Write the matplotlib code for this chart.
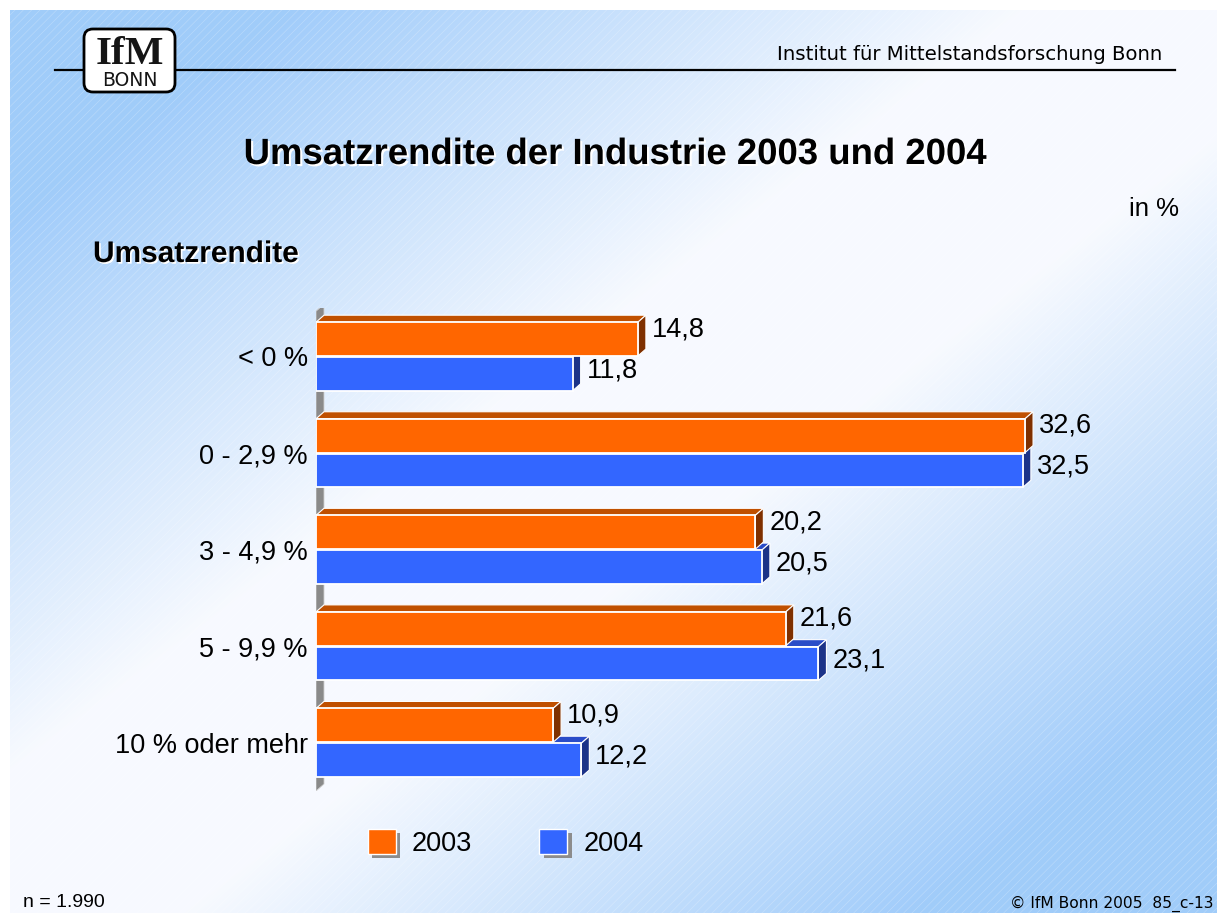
import numpy as np
import matplotlib
matplotlib.use('Agg')
import matplotlib.pyplot as plt
from matplotlib.patches import Polygon, Rectangle, FancyBboxPatch, Patch
import matplotlib.patheffects as pe

# ---------------- data ----------------
categories = ['< 0 %', '0 - 2,9 %', '3 - 4,9 %', '5 - 9,9 %', '10 % oder mehr']
values_2003 = [14.8, 32.6, 20.2, 21.6, 10.9]
values_2004 = [11.8, 32.5, 20.5, 23.1, 12.2]
series_labels = ['2003', '2004']

title = 'Umsatzrendite der Industrie 2003 und 2004'
axis_title = 'Umsatzrendite'
unit_label = 'in %'
header = 'Institut für Mittelstandsforschung Bonn'
footer_left = 'n = 1.990'
footer_right = '© IfM Bonn 2005  85_c-13'

# ---------------- styles ----------------
W, H, DPI = 1217, 913, 100
ORANGE, ORANGE_TOP, ORANGE_SIDE = '#ff6600', '#c05000', '#7f3000'
BLUE, BLUE_TOP, BLUE_SIDE = '#3366ff', '#2a4cc8', '#1c3388'
WALL = '#8a8a8a'
SANS = ['Liberation Sans', 'DejaVu Sans']
plt.rcParams['font.family'] = SANS
plt.rcParams['hatch.linewidth'] = 0.5

fig = plt.figure(figsize=(W / DPI, H / DPI), dpi=DPI)

# ---------------- background ----------------
bg = fig.add_axes([0, 0, 1, 1])
bg.set_xlim(0, W)
bg.set_ylim(H, 0)
bg.axis('off')
yy, xx = np.mgrid[0:H, 0:W]
s = xx / W + yy / H
d = np.abs(s - 1.0)
g = np.clip((d - 0.15) / 0.6, 0, 1)
white = np.array([0.97, 0.98, 1.0])
blue = np.array([0.63, 0.80, 0.98])
img = white[None, None, :] * (1 - g[..., None]) + blue[None, None, :] * g[..., None]
img[:10, :, :] = 1.0
img[:, :10, :] = 1.0
bg.imshow(img, extent=(0, W, H, 0), aspect='auto', zorder=0, interpolation='bilinear')
bg.add_patch(Rectangle((10, 10), W - 10, H - 10, facecolor='none', edgecolor='white',
                       hatch='////', lw=0, alpha=0.25, zorder=1))

# header line + logo
bg.plot([55, 1175], [70, 70], color='black', lw=1.6, zorder=2)
bg.add_patch(FancyBboxPatch((84, 29), 91, 63, boxstyle='round,pad=0,rounding_size=9',
                            fc='white', ec='black', lw=2, zorder=3))
bg.text(130, 64, 'IfM', family='Liberation Serif', weight='bold', fontsize=29.5,
        ha='center', va='baseline', color='#151515', zorder=4)
bg.text(130, 86, 'BONN', family='DejaVu Sans', fontsize=13.5, ha='center', va='baseline',
        color='#151515', zorder=4)
bg.text(1162, 60, header, family='DejaVu Sans', fontsize=14.2, ha='right', va='baseline',
        color='black', zorder=4)

# titles
bg.text(615, 164, title, fontsize=26.3, weight='bold', ha='center', va='baseline', color='black',
        zorder=4, path_effects=[pe.withSimplePatchShadow(offset=(1.5, -1.5), shadow_rgbFace='white', alpha=1.0)])
bg.text(93, 262, axis_title, fontsize=21.5, weight='bold', ha='left', va='baseline', color='black',
        zorder=4, path_effects=[pe.withSimplePatchShadow(offset=(1.2, -1.2), shadow_rgbFace='white', alpha=1.0)])
bg.text(1179, 216, unit_label, fontsize=18.5, ha='right', va='baseline', color='black', zorder=4)

# footers
bg.text(23, 907, footer_left, fontsize=14, ha='left', va='baseline', color='black', zorder=4)
bg.text(1213, 908, footer_right, family='DejaVu Sans', fontsize=11.2, ha='right', va='baseline',
        color='black', zorder=4)

# ---------------- main chart ----------------
ax_l, ax_r, ax_t, ax_b = 316, 1100, 308.2, 791.0
ax = fig.add_axes([ax_l / W, 1 - ax_b / H, (ax_r - ax_l) / W, (ax_b - ax_t) / H])
ax.patch.set_alpha(0)
px_per_unit = 21.75
xmax = (ax_r - ax_l) / px_per_unit
ax.set_xlim(0, xmax)
ax.set_ylim(len(categories) - 0.5, -0.5)
sx = xmax / (ax_r - ax_l)
sy = len(categories) / (ax_b - ax_t)
ddx, ddy = 8 * sx, 7 * sy

for sp in ax.spines.values():
    sp.set_visible(False)
ax.set_xticks([])
ypos = np.arange(len(categories))
ax.set_yticks(ypos)
ax.set_yticklabels(categories, fontsize=19.5)
ax.tick_params(axis='y', length=0, pad=6)

# wall
wall_top = -0.5 + 3 * sy
wall_bot = len(categories) - 0.5
ax.add_patch(Polygon([(0, wall_top), (ddx, wall_top - ddy), (ddx, wall_bot - ddy), (0, wall_bot)],
                     closed=True, fc=WALL, ec='#d0d0d0', lw=0.6, zorder=1))

bh = 0.35
off = 0.18


def draw_series(vals, centers, front, top, side, z):
    bars = ax.barh(centers, vals, height=bh, color=front, edgecolor='white', lw=1.3, zorder=z + 1)
    for rect in bars:
        v = rect.get_width()
        y0 = rect.get_y()
        y1 = y0 + rect.get_height()
        ax.add_patch(Polygon([(0, y0), (v, y0), (v + ddx, y0 - ddy), (ddx, y0 - ddy)],
                             closed=True, fc=top, ec='white', lw=0.8, zorder=z))
        ax.add_patch(Polygon([(v, y0), (v + ddx, y0 - ddy), (v + ddx, y1 - ddy), (v, y1)],
                             closed=True, fc=side, ec='white', lw=0.8, zorder=z))
    return bars


draw_series(values_2004, ypos + off, BLUE, BLUE_TOP, BLUE_SIDE, 2)
draw_series(values_2003, ypos - off, ORANGE, ORANGE_TOP, ORANGE_SIDE, 4)

for i in range(len(categories)):
    ax.text(values_2003[i] + ddx + 6 * sx, ypos[i] - off - 10 * sy,
            f'{values_2003[i]:.1f}'.replace('.', ','), fontsize=19.5, ha='left', va='center', zorder=10)
    ax.text(values_2004[i] + ddx + 6 * sx, ypos[i] + off - 3.5 * sy,
            f'{values_2004[i]:.1f}'.replace('.', ','), fontsize=19.5, ha='left', va='center', zorder=10)

# legend
shadow = [pe.SimplePatchShadow(offset=(3, -3), shadow_rgbFace='#8c8c8c', alpha=1.0), pe.Normal()]
handles = [Patch(facecolor=ORANGE, edgecolor='white', lw=1, label=series_labels[0], path_effects=shadow),
           Patch(facecolor=BLUE, edgecolor='white', lw=1, label=series_labels[1], path_effects=shadow)]
fs = 19.5
sq = 28 * 72 / DPI / fs
fig.legend(handles=handles, loc='center left', bbox_to_anchor=(368 / W, 1 - 843 / H), ncol=2,
           frameon=False, fontsize=fs, handlelength=sq, handleheight=sq, handletextpad=16 * 0.72 / fs,
           columnspacing=67 * 0.72 / fs, borderpad=0, borderaxespad=0)

fig.savefig('out.png', dpi=DPI)
